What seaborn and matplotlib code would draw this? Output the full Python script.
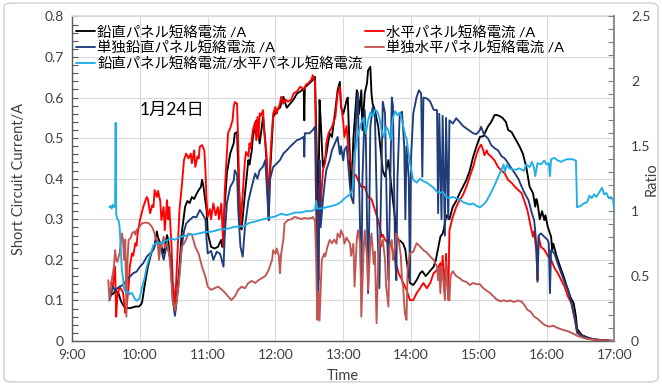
import numpy as np
import matplotlib
matplotlib.use("Agg")
import matplotlib.pyplot as plt
from matplotlib.ticker import MultipleLocator, FixedLocator
from matplotlib.patches import FancyBboxPatch
import seaborn as sns

# ---- measured series: (clock time, value) ----
# vertical panel short-circuit current [A]
vertical = [
    ("9:34", 0.113), ("9:37", 0.118), ("9:38", 0.126), ("9:40", 0.120), ("9:41", 0.118),
    ("9:43", 0.100), ("9:44", 0.094), ("9:46", 0.085), ("9:47", 0.081), ("9:51", 0.081),
    ("9:54", 0.083), ("9:56", 0.085), ("9:59", 0.085), ("10:01", 0.090), ("10:02", 0.097),
    ("10:04", 0.134), ("10:07", 0.183), ("10:10", 0.216), ("10:13", 0.236), ("10:15", 0.270),
    ("10:16", 0.255), ("10:18", 0.241), ("10:21", 0.216), ("10:24", 0.261), ("10:25", 0.250),
    ("10:27", 0.194), ("10:29", 0.118), ("10:31", 0.069), ("10:33", 0.118), ("10:35", 0.183),
    ("10:37", 0.266), ("10:40", 0.331), ("10:42", 0.345), ("10:44", 0.340), ("10:46", 0.355),
    ("10:48", 0.350), ("10:50", 0.362), ("10:52", 0.372), ("10:54", 0.380), ("10:55", 0.397),
    ("10:56", 0.385), ("10:59", 0.323), ("11:00", 0.266), ("11:03", 0.232), ("11:06", 0.228),
    ("11:09", 0.232), ("11:12", 0.249), ("11:13", 0.232), ("11:15", 0.331), ("11:17", 0.414),
    ("11:20", 0.463), ("11:23", 0.487), ("11:24", 0.512), ("11:26", 0.515), ("11:27", 0.429),
    ("11:29", 0.282), ("11:30", 0.275), ("11:33", 0.364), ("11:36", 0.446), ("11:37", 0.435),
    ("11:39", 0.470), ("11:40", 0.503), ("11:43", 0.544), ("11:46", 0.487), ("11:49", 0.552),
    ("11:51", 0.490), ("11:52", 0.446), ("11:54", 0.298), ("11:55", 0.405), ("11:58", 0.552),
    ("12:01", 0.569), ("12:04", 0.575), ("12:07", 0.602), ("12:10", 0.575), ("12:13", 0.585),
    ("12:16", 0.595), ("12:19", 0.610), ("12:22", 0.615), ("12:25", 0.622), ("12:25.5", 0.544),
    ("12:26", 0.625), ("12:30", 0.635), ("12:33", 0.643), ("12:35", 0.651), ("12:36", 0.528),
    ("12:38", 0.282), ("12:39", 0.594), ("12:40", 0.545), ("12:42", 0.429), ("12:45", 0.460),
    ("12:48", 0.512), ("12:50", 0.503), ("12:53", 0.569), ("12:55", 0.618), ("12:57", 0.639),
    ("12:58", 0.577), ("13:00", 0.560), ("13:01", 0.570), ("13:03", 0.594), ("13:04", 0.600),
    ("13:06", 0.446), ("13:07", 0.364), ("13:09", 0.500), ("13:12", 0.618), ("13:13", 0.610),
    ("13:14", 0.560), ("13:16", 0.618), ("13:17", 0.520), ("13:19", 0.610), ("13:21", 0.635),
    ("13:22", 0.667), ("13:24", 0.676), ("13:25", 0.610), ("13:26", 0.585), ("13:28", 0.569),
    ("13:31", 0.528), ("13:34", 0.446), ("13:35", 0.420), ("13:37", 0.405), ("13:38", 0.420),
    ("13:40", 0.446), ("13:41", 0.420), ("13:43", 0.372), ("13:44", 0.347), ("13:46", 0.298),
    ("13:47", 0.265), ("13:48", 0.250), ("13:50", 0.248), ("13:53", 0.240), ("13:55", 0.225),
    ("13:56", 0.200), ("13:59", 0.143), ("14:02", 0.138), ("14:05", 0.150), ("14:08", 0.167),
    ("14:10", 0.172), ("14:13", 0.160), ("14:16", 0.170), ("14:20", 0.183), ("14:22", 0.200),
    ("14:26", 0.257), ("14:28", 0.265), ("14:29", 0.275), ("14:31", 0.306), ("14:32", 0.310),
    ("14:34", 0.300), ("14:37", 0.331), ("14:40", 0.345), ("14:43", 0.364), ("14:46", 0.380),
    ("14:49", 0.397), ("14:52", 0.420), ("14:55", 0.454), ("14:58", 0.480), ("15:01", 0.503),
    ("15:04", 0.505), ("15:08", 0.528), ("15:11", 0.540), ("15:14", 0.557), ("15:16", 0.557),
    ("15:18", 0.555), ("15:21", 0.550), ("15:24", 0.540), ("15:26", 0.520), ("15:29", 0.515),
    ("15:31", 0.505), ("15:33", 0.495), ("15:36", 0.480), ("15:39", 0.462), ("15:42", 0.429),
    ("15:45", 0.380), ("15:47", 0.370), ("15:48", 0.364), ("15:50", 0.331), ("15:51", 0.350),
    ("15:52", 0.340), ("15:54", 0.300), ("15:56", 0.320), ("15:58", 0.298), ("15:59", 0.310),
    ("16:01", 0.282), ("16:04", 0.257), ("16:05", 0.224), ("16:06", 0.240), ("16:09", 0.208),
    ("16:12", 0.183), ("16:15", 0.160), ("16:18", 0.134), ("16:21", 0.109), ("16:24", 0.093),
    ("16:26", 0.060), ("16:27", 0.030), ("16:31", 0.015), ("16:35", 0.010), ("16:40", 0.005),
    ("16:45", 0.003), ("16:55", 0.001), ("17:00", 0.000),
]

# horizontal panel short-circuit current [A]
horizontal = [
    ("9:34", 0.143), ("9:36", 0.134), ("9:38", 0.183), ("9:39", 0.060), ("9:40", 0.110),
    ("9:42", 0.134), ("9:45", 0.120), ("9:47", 0.069), ("9:48", 0.080), ("9:50", 0.134),
    ("9:51", 0.183), ("9:53", 0.216), ("9:54", 0.210), ("9:56", 0.241), ("9:57", 0.235),
    ("9:58", 0.265), ("10:00", 0.298), ("10:03", 0.331), ("10:06", 0.355), ("10:07", 0.350),
    ("10:09", 0.315), ("10:11", 0.335), ("10:12", 0.330), ("10:13", 0.372), ("10:15", 0.355),
    ("10:16", 0.370), ("10:18", 0.345), ("10:19", 0.298), ("10:21", 0.330), ("10:22", 0.273),
    ("10:24", 0.347), ("10:25", 0.300), ("10:26", 0.330), ("10:28", 0.232), ("10:29", 0.150),
    ("10:31", 0.085), ("10:33", 0.200), ("10:35", 0.323), ("10:37", 0.380), ("10:39", 0.446),
    ("10:41", 0.462), ("10:43", 0.450), ("10:45", 0.462), ("10:46", 0.438), ("10:48", 0.470),
    ("10:49", 0.429), ("10:51", 0.455), ("10:52", 0.450), ("10:53", 0.479), ("10:55", 0.483),
    ("10:57", 0.470), ("10:58", 0.421), ("10:59", 0.347), ("11:00", 0.306), ("11:02", 0.325),
    ("11:03", 0.300), ("11:05", 0.339), ("11:07", 0.310), ("11:09", 0.330), ("11:10", 0.300),
    ("11:12", 0.339), ("11:13", 0.282), ("11:14", 0.232), ("11:15", 0.364), ("11:17", 0.462),
    ("11:18", 0.512), ("11:20", 0.525), ("11:22", 0.544), ("11:23", 0.577), ("11:24", 0.589),
    ("11:26", 0.585), ("11:27", 0.487), ("11:28", 0.364), ("11:29", 0.282), ("11:31", 0.364),
    ("11:33", 0.446), ("11:34", 0.466), ("11:36", 0.455), ("11:37", 0.487), ("11:38", 0.475),
    ("11:40", 0.520), ("11:42", 0.540), ("11:43", 0.495), ("11:44", 0.552), ("11:45", 0.500),
    ("11:46", 0.561), ("11:47", 0.555), ("11:49", 0.569), ("11:50", 0.520), ("11:52", 0.462),
    ("11:54", 0.347), ("11:55", 0.420), ("11:56", 0.480), ("11:58", 0.561), ("12:00", 0.577),
    ("12:01", 0.560), ("12:02", 0.570), ("12:04", 0.585), ("12:05", 0.602), ("12:07", 0.585),
    ("12:09", 0.595), ("12:11", 0.590), ("12:14", 0.595), ("12:16", 0.610), ("12:19", 0.615),
    ("12:22", 0.627), ("12:25", 0.620), ("12:27", 0.632), ("12:29", 0.635), ("12:32", 0.645),
    ("12:33", 0.655), ("12:35", 0.640), ("12:36", 0.446), ("12:37", 0.250), ("12:38", 0.150),
    ("12:39", 0.380), ("12:40", 0.330), ("12:42", 0.421), ("12:44", 0.440), ("12:45", 0.487),
    ("12:47", 0.512), ("12:50", 0.528), ("12:53", 0.552), ("12:55", 0.610), ("12:57", 0.627),
    ("12:58", 0.585), ("13:00", 0.540), ("13:01", 0.503), ("13:03", 0.530), ("13:04", 0.490),
    ("13:06", 0.446), ("13:07", 0.440), ("13:09", 0.405), ("13:11", 0.410), ("13:13", 0.397),
    ("13:16", 0.380), ("13:19", 0.380), ("13:22", 0.355), ("13:25", 0.350), ("13:28", 0.323),
    ("13:31", 0.298), ("13:34", 0.257), ("13:35", 0.262), ("13:37", 0.249), ("13:40", 0.240),
    ("13:43", 0.232), ("13:46", 0.200), ("13:49", 0.167), ("13:52", 0.150), ("13:56", 0.126),
    ("13:59", 0.101), ("14:02", 0.101), ("14:05", 0.118), ("14:08", 0.130), ("14:11", 0.143),
    ("14:14", 0.130), ("14:17", 0.143), ("14:20", 0.167), ("14:23", 0.175), ("14:26", 0.192),
    ("14:27", 0.150), ("14:28", 0.210), ("14:30", 0.118), ("14:31", 0.215), ("14:33", 0.101),
    ("14:34", 0.273), ("14:37", 0.306), ("14:40", 0.330), ("14:43", 0.347), ("14:46", 0.360),
    ("14:49", 0.380), ("14:52", 0.405), ("14:55", 0.429), ("14:58", 0.460), ("15:00", 0.475),
    ("15:02", 0.484), ("15:04", 0.470), ("15:05", 0.458), ("15:07", 0.470), ("15:08", 0.462),
    ("15:11", 0.454), ("15:14", 0.445), ("15:17", 0.429), ("15:20", 0.420), ("15:23", 0.413),
    ("15:26", 0.397), ("15:29", 0.390), ("15:32", 0.380), ("15:35", 0.372), ("15:38", 0.364),
    ("15:40", 0.348), ("15:43", 0.323), ("15:46", 0.282), ("15:48", 0.257), ("15:49", 0.270),
    ("15:51", 0.220), ("15:52", 0.150), ("15:53", 0.257), ("15:55", 0.232), ("15:58", 0.225),
    ("16:01", 0.210), ("16:04", 0.200), ("16:07", 0.180), ("16:10", 0.167), ("16:13", 0.150),
    ("16:16", 0.134), ("16:19", 0.109), ("16:22", 0.093), ("16:25", 0.052), ("16:27", 0.023),
    ("16:31", 0.012), ("16:36", 0.008), ("16:42", 0.004), ("16:50", 0.002), ("17:00", 0.000),
]

# stand-alone vertical panel short-circuit current [A]
single_vertical = [
    ("9:33", 0.100), ("9:34", 0.109), ("9:36", 0.134), ("9:38", 0.125), ("9:40", 0.130),
    ("9:42", 0.134), ("9:45", 0.138), ("9:48", 0.150), ("9:51", 0.158), ("9:54", 0.167),
    ("9:57", 0.171), ("10:00", 0.183), ("10:03", 0.192), ("10:06", 0.208), ("10:09", 0.216),
    ("10:12", 0.225), ("10:15", 0.249), ("10:18", 0.235), ("10:21", 0.200), ("10:24", 0.240),
    ("10:27", 0.200), ("10:28", 0.160), ("10:29", 0.101), ("10:31", 0.062), ("10:33", 0.110),
    ("10:34", 0.134), ("10:37", 0.232), ("10:39", 0.270), ("10:41", 0.290), ("10:44", 0.298),
    ("10:47", 0.306), ("10:50", 0.305), ("10:53", 0.323), ("10:55", 0.315), ("10:58", 0.300),
    ("10:59", 0.249), ("11:00", 0.216), ("11:03", 0.222), ("11:05", 0.200), ("11:08", 0.220),
    ("11:11", 0.215), ("11:14", 0.183), ("11:15", 0.257), ("11:17", 0.340), ("11:20", 0.380),
    ("11:23", 0.395), ("11:24", 0.421), ("11:26", 0.410), ("11:27", 0.323), ("11:29", 0.232),
    ("11:31", 0.208), ("11:33", 0.282), ("11:36", 0.345), ("11:39", 0.380), ("11:42", 0.413),
    ("11:44", 0.400), ("11:46", 0.421), ("11:49", 0.430), ("11:51", 0.446), ("11:52", 0.397),
    ("11:54", 0.298), ("11:55", 0.397), ("11:58", 0.429), ("12:01", 0.437), ("12:04", 0.446),
    ("12:07", 0.462), ("12:10", 0.470), ("12:13", 0.479), ("12:16", 0.487), ("12:19", 0.495),
    ("12:22", 0.498), ("12:25", 0.503), ("12:25.5", 0.454), ("12:26", 0.512), ("12:30", 0.512),
    ("12:33", 0.520), ("12:35", 0.528), ("12:36", 0.323), ("12:38", 0.101), ("12:39", 0.446),
    ("12:40", 0.280), ("12:42", 0.347), ("12:44", 0.400), ("12:45", 0.421), ("12:48", 0.446),
    ("12:50", 0.470), ("12:53", 0.490), ("12:55", 0.503), ("12:57", 0.460), ("12:58", 0.480),
    ("13:00", 0.445), ("13:01", 0.470), ("13:03", 0.480), ("13:04", 0.450), ("13:06", 0.380),
    ("13:07", 0.355), ("13:09", 0.339), ("13:10", 0.450), ("13:12", 0.585), ("13:13", 0.610),
    ("13:14", 0.400), ("13:16", 0.126), ("13:17", 0.400), ("13:19", 0.569), ("13:20", 0.500),
    ("13:22", 0.118), ("13:23", 0.300), ("13:24", 0.528), ("13:26", 0.577), ("13:28", 0.560),
    ("13:30", 0.300), ("13:32", 0.130), ("13:33", 0.300), ("13:35", 0.590), ("13:37", 0.560),
    ("13:39", 0.250), ("13:40", 0.150), ("13:41", 0.300), ("13:43", 0.600), ("13:44", 0.580),
    ("13:46", 0.200), ("13:47", 0.150), ("13:48", 0.400), ("13:50", 0.560), ("13:52", 0.565),
    ("13:54", 0.480), ("13:55", 0.300), ("13:56", 0.480), ("13:58", 0.400), ("13:59", 0.150),
    ("14:00", 0.450), ("14:02", 0.561), ("14:05", 0.602), ("14:07", 0.618), ("14:09", 0.610),
    ("14:10", 0.405), ("14:11", 0.600), ("14:14", 0.598), ("14:17", 0.590), ("14:20", 0.570),
    ("14:23", 0.569), ("14:24", 0.315), ("14:25", 0.560), ("14:27", 0.300), ("14:28", 0.555),
    ("14:30", 0.260), ("14:31", 0.550), ("14:33", 0.300), ("14:34", 0.544), ("14:37", 0.536),
    ("14:40", 0.549), ("14:43", 0.540), ("14:46", 0.530), ("14:49", 0.524), ("14:52", 0.518),
    ("14:55", 0.512), ("14:58", 0.510), ("15:01", 0.520), ("15:02", 0.528), ("15:05", 0.507),
    ("15:08", 0.500), ("15:11", 0.483), ("15:14", 0.475), ("15:17", 0.470), ("15:20", 0.456),
    ("15:23", 0.450), ("15:26", 0.438), ("15:29", 0.425), ("15:32", 0.413), ("15:35", 0.400),
    ("15:38", 0.380), ("15:41", 0.362), ("15:44", 0.347), ("15:47", 0.315), ("15:49", 0.298),
    ("15:50", 0.270), ("15:51", 0.230), ("15:52", 0.146), ("15:53", 0.260), ("15:55", 0.265),
    ("15:58", 0.257), ("16:01", 0.249), ("16:02", 0.240), ("16:03", 0.118), ("16:04", 0.224),
    ("16:07", 0.216), ("16:10", 0.190), ("16:13", 0.167), ("16:16", 0.145), ("16:19", 0.126),
    ("16:22", 0.093), ("16:24", 0.069), ("16:25", 0.060), ("16:27", 0.020), ("16:31", 0.013),
    ("16:36", 0.008), ("16:42", 0.004), ("16:50", 0.002), ("17:00", 0.000),
]

# stand-alone horizontal panel short-circuit current [A]
single_horizontal = [
    ("9:32", 0.150), ("9:33", 0.101), ("9:35", 0.150), ("9:37", 0.183), ("9:38", 0.224),
    ("9:39", 0.200), ("9:40", 0.195), ("9:42", 0.216), ("9:44", 0.265), ("9:45", 0.250),
    ("9:46", 0.200), ("9:47", 0.250), ("9:48", 0.060), ("9:49", 0.200), ("9:50", 0.249),
    ("9:52", 0.255), ("9:53", 0.265), ("9:55", 0.270), ("9:56", 0.262), ("9:57", 0.273),
    ("9:59", 0.280), ("10:02", 0.290), ("10:05", 0.292), ("10:08", 0.290), ("10:11", 0.280),
    ("10:13", 0.265), ("10:14", 0.250), ("10:15", 0.255), ("10:16", 0.232), ("10:17", 0.200),
    ("10:18", 0.240), ("10:19", 0.230), ("10:21", 0.257), ("10:22", 0.230), ("10:24", 0.240),
    ("10:26", 0.210), ("10:27", 0.183), ("10:28", 0.140), ("10:29", 0.101), ("10:31", 0.075),
    ("10:33", 0.110), ("10:35", 0.160), ("10:37", 0.232), ("10:40", 0.245), ("10:43", 0.265),
    ("10:46", 0.262), ("10:49", 0.232), ("10:52", 0.215), ("10:55", 0.183), ("10:58", 0.158),
    ("11:00", 0.134), ("11:03", 0.126), ("11:06", 0.130), ("11:09", 0.134), ("11:12", 0.128),
    ("11:15", 0.120), ("11:18", 0.110), ("11:21", 0.101), ("11:24", 0.110), ("11:27", 0.126),
    ("11:30", 0.134), ("11:33", 0.130), ("11:36", 0.143), ("11:39", 0.148), ("11:42", 0.143),
    ("11:45", 0.150), ("11:48", 0.155), ("11:51", 0.160), ("11:54", 0.175), ("11:57", 0.200),
    ("11:58", 0.224), ("12:00", 0.215), ("12:01", 0.228), ("12:03", 0.210), ("12:04", 0.167),
    ("12:05", 0.215), ("12:07", 0.250), ("12:08", 0.290), ("12:11", 0.298), ("12:14", 0.300),
    ("12:17", 0.306), ("12:20", 0.303), ("12:23", 0.301), ("12:26", 0.303), ("12:29", 0.302),
    ("12:32", 0.303), ("12:33", 0.306), ("12:35", 0.296), ("12:36", 0.200), ("12:37", 0.052),
    ("12:38", 0.120), ("12:39", 0.050), ("12:41", 0.200), ("12:43", 0.215), ("12:44", 0.208),
    ("12:46", 0.232), ("12:48", 0.249), ("12:50", 0.241), ("12:52", 0.250), ("12:54", 0.240),
    ("12:55", 0.265), ("12:57", 0.255), ("12:58", 0.273), ("13:00", 0.260), ("13:01", 0.240),
    ("13:03", 0.255), ("13:04", 0.249), ("13:06", 0.240), ("13:07", 0.210), ("13:09", 0.240),
    ("13:10", 0.134), ("13:12", 0.250), ("13:13", 0.273), ("13:15", 0.240), ("13:16", 0.060),
    ("13:18", 0.220), ("13:19", 0.273), ("13:21", 0.210), ("13:22", 0.126), ("13:24", 0.240),
    ("13:25", 0.265), ("13:27", 0.190), ("13:28", 0.220), ("13:29.5", 0.044), ("13:31", 0.200),
    ("13:32", 0.257), ("13:34", 0.233), ("13:35", 0.250), ("13:37", 0.200), ("13:38", 0.134),
    ("13:40", 0.085), ("13:41", 0.233), ("13:43", 0.249), ("13:44", 0.200), ("13:46", 0.233),
    ("13:47", 0.265), ("13:49", 0.250), ("13:51", 0.208), ("13:52", 0.150), ("13:53", 0.134),
    ("13:54.5", 0.069), ("13:56", 0.052), ("13:57", 0.180), ("13:59", 0.216), ("14:02", 0.220),
    ("14:05", 0.241), ("14:08", 0.233), ("14:11", 0.224), ("14:14", 0.218), ("14:17", 0.208),
    ("14:20", 0.200), ("14:23", 0.183), ("14:24", 0.150), ("14:25", 0.180), ("14:26", 0.118),
    ("14:27", 0.185), ("14:28", 0.167), ("14:30", 0.101), ("14:31", 0.195), ("14:33", 0.110),
    ("14:34", 0.101), ("14:35", 0.160), ("14:37", 0.172), ("14:40", 0.160), ("14:43", 0.155),
    ("14:46", 0.148), ("14:49", 0.146), ("14:52", 0.138), ("14:55", 0.143), ("14:58", 0.140),
    ("15:01", 0.140), ("15:04", 0.130), ("15:07", 0.124), ("15:10", 0.118), ("15:13", 0.110),
    ("15:16", 0.102), ("15:19", 0.098), ("15:22", 0.100), ("15:25", 0.098), ("15:28", 0.100),
    ("15:31", 0.096), ("15:35", 0.100), ("15:38", 0.097), ("15:40", 0.090), ("15:43", 0.077),
    ("15:46", 0.072), ("15:49", 0.060), ("15:52", 0.055), ("15:55", 0.047), ("15:58", 0.040),
    ("16:01", 0.036), ("16:04", 0.036), ("16:06", 0.038), ("16:09", 0.033), ("16:12", 0.030),
    ("16:15", 0.027), ("16:19", 0.024), ("16:23", 0.019), ("16:27", 0.013), ("16:31", 0.009),
    ("16:36", 0.005), ("16:42", 0.003), ("16:50", 0.001), ("17:00", 0.000),
]

# ratio: vertical current / horizontal current
current_ratio = [
    ("9:33", 1.03), ("9:34", 1.04), ("9:35", 1.02), ("9:36", 1.05), ("9:37", 1.03),
    ("9:38", 1.05), ("9:38.5", 1.68), ("9:39", 0.97), ("9:40", 0.94), ("9:41", 0.93),
    ("9:42", 0.88), ("9:43", 0.72), ("9:44", 0.55), ("9:45", 0.48), ("9:46", 0.40),
    ("9:48", 0.37), ("9:50", 0.38), ("9:51", 0.36), ("9:53", 0.37), ("9:55", 0.33),
    ("9:57", 0.31), ("9:59", 0.32), ("10:00", 0.34), ("10:02", 0.42), ("10:04", 0.48),
    ("10:06", 0.57), ("10:09", 0.66), ("10:12", 0.74), ("10:14", 0.75), ("10:16", 0.76),
    ("10:19", 0.75), ("10:22", 0.77), ("10:25", 0.78), ("10:28", 0.79), ("10:31", 0.78),
    ("10:35", 0.80), ("10:40", 0.81), ("10:44", 0.82), ("10:48", 0.82), ("10:53", 0.83),
    ("10:58", 0.84), ("11:02", 0.84), ("11:07", 0.85), ("11:11", 0.86), ("11:15", 0.86),
    ("11:20", 0.87), ("11:24", 0.88), ("11:28", 0.88), ("11:33", 0.89), ("11:37", 0.91),
    ("11:42", 0.92), ("11:46", 0.93), ("11:50", 0.94), ("11:55", 0.95), ("12:00", 0.96),
    ("12:05", 0.98), ("12:10", 0.97), ("12:14", 0.98), ("12:18", 0.99), ("12:23", 0.99),
    ("12:27", 1.00), ("12:31", 1.00), ("12:35", 1.01), ("12:36", 1.08), ("12:37", 1.02),
    ("12:40", 1.02), ("12:45", 1.03), ("12:50", 1.04), ("12:54", 1.05), ("12:58", 1.07),
    ("13:00", 1.09), ("13:03", 1.11), ("13:06", 1.13), ("13:08", 1.16), ("13:09", 1.25),
    ("13:10", 1.42), ("13:12", 1.55), ("13:14", 1.62), ("13:16", 1.68), ("13:18", 1.72),
    ("13:20", 1.60), ("13:22", 1.70), ("13:24", 1.76), ("13:26", 1.73), ("13:28", 1.78),
    ("13:30", 1.77), ("13:32", 1.72), ("13:34", 1.62), ("13:36", 1.57), ("13:38", 1.65),
    ("13:40", 1.62), ("13:42", 1.55), ("13:44", 1.72), ("13:46", 1.77), ("13:48", 1.74),
    ("13:50", 1.76), ("13:52", 1.70), ("13:54", 1.62), ("13:55", 1.58), ("13:56", 1.56),
    ("13:59", 1.37), ("14:02", 1.24), ("14:05", 1.22), ("14:08", 1.25), ("14:11", 1.23),
    ("14:14", 1.22), ("14:17", 1.20), ("14:20", 1.18), ("14:23", 1.15), ("14:26", 1.14),
    ("14:28", 1.15), ("14:31", 1.11), ("14:34", 1.10), ("14:37", 1.11), ("14:40", 1.10),
    ("14:43", 1.09), ("14:46", 1.07), ("14:49", 1.06), ("14:52", 1.05), ("14:55", 1.06),
    ("14:58", 1.04), ("15:01", 1.03), ("15:04", 1.05), ("15:07", 1.08), ("15:10", 1.13),
    ("15:13", 1.18), ("15:16", 1.24), ("15:18", 1.28), ("15:20", 1.32), ("15:22", 1.36),
    ("15:23", 1.30), ("15:25", 1.36), ("15:27", 1.33), ("15:30", 1.32), ("15:33", 1.32),
    ("15:36", 1.33), ("15:40", 1.31), ("15:42", 1.36), ("15:45", 1.34), ("15:47", 1.38),
    ("15:49", 1.33), ("15:50", 1.27), ("15:52", 1.37), ("15:55", 1.36), ("15:58", 1.39),
    ("16:00", 1.36), ("16:02", 1.37), ("16:03", 1.27), ("16:04", 1.40), ("16:07", 1.41),
    ("16:10", 1.39), ("16:13", 1.38), ("16:15", 1.39), ("16:18", 1.40), ("16:21", 1.40),
    ("16:23", 1.40), ("16:26", 1.39), ("16:27", 1.03), ("16:30", 1.04), ("16:33", 1.06),
    ("16:36", 1.07), ("16:38", 1.12), ("16:40", 1.10), ("16:42", 1.13), ("16:44", 1.11),
    ("16:47", 1.15), ("16:49", 1.18), ("16:51", 1.13), ("16:53", 1.14), ("16:55", 1.10),
    ("16:57", 1.11), ("16:59", 1.08), ("17:00", 1.00),
]

series_labels = [
    "鉛直パネル短絡電流 /A",
    "水平パネル短絡電流 /A",
    "単独鉛直パネル短絡電流 /A",
    "単独水平パネル短絡電流 /A",
    "鉛直パネル短絡電流/水平パネル短絡電流",
]
hour_ticks = [9, 10, 11, 12, 13, 14, 15, 16, 17]
hour_labels = ["9:00", "10:00", "11:00", "12:00", "13:00", "14:00", "15:00", "16:00", "17:00"]
current_ticks = [0, 0.1, 0.2, 0.3, 0.4, 0.5, 0.6, 0.7, 0.8]
current_labels = ["0", "0.1", "0.2", "0.3", "0.4", "0.5", "0.6", "0.7", "0.8"]
ratio_ticks = [0, 0.5, 1.0, 1.5, 2.0, 2.5]
ratio_labels = ["0", "0.5", "1", "1.5", "2", "2.5"]


def to_hours(clock):
    h, m = clock.split(":")
    return int(h) + float(m) / 60.0


def split(series):
    t = np.array([to_hours(c) for c, _ in series])
    v = np.array([val for _, val in series])
    return t, v


sns.set_theme(style="white")
plt.rcParams["font.family"] = ["Lato", "Noto Sans CJK JP", "DejaVu Sans"]
text_grey = "#404040"

fig = plt.figure(figsize=(6.62, 3.85), dpi=100)
fig.patch.set_facecolor("white")
fig.patches.append(FancyBboxPatch((0.006, 0.008), 0.988, 0.984,
                                  boxstyle="round,pad=0,rounding_size=0.012",
                                  transform=fig.transFigure, fill=False,
                                  edgecolor="#D0D0D0", linewidth=1.0))

ax = fig.add_axes([0.109, 0.1143, 0.819, 0.843])
ax2 = ax.twinx()

colors = ["#000000", "#FF0000", "#1F3D7A", "#C05552", "#1FAEE6"]
lw = 1.35
handles = []
for i, data in enumerate([vertical, horizontal, single_vertical, single_horizontal]):
    t, v = split(data)
    sns.lineplot(x=t, y=v, ax=ax, color=colors[i], linewidth=lw,
                 estimator=None, sort=False, zorder=2 + i)
    handles.append(ax.lines[-1])

t, r = split(current_ratio)
sns.lineplot(x=t, y=r, ax=ax2, color=colors[4], linewidth=lw,
             estimator=None, sort=False, zorder=3)
handles.append(ax2.lines[-1])

# primary axis
ax.set_xlim(9, 17)
ax.set_ylim(0, 0.8)
ax.xaxis.set_major_locator(FixedLocator(hour_ticks))
ax.set_xticklabels(hour_labels)
ax.xaxis.set_minor_locator(MultipleLocator(0.5))
ax.yaxis.set_major_locator(FixedLocator(current_ticks))
ax.set_yticklabels(current_labels)
ax.yaxis.set_minor_locator(MultipleLocator(0.02))
ax.grid(True, which="major", color="#D9D9D9", linewidth=0.8)
ax.set_axisbelow(True)
ax.tick_params(axis="both", which="both", direction="in", colors="#595959",
               labelcolor=text_grey, labelsize=10, length=4, width=0.8)
ax.tick_params(axis="y", pad=6)
ax.tick_params(axis="x", pad=6)
for side in ["left", "bottom"]:
    ax.spines[side].set_color("#595959")
    ax.spines[side].set_linewidth(1.0)
ax.spines["top"].set_color("#D9D9D9")
ax.spines["right"].set_visible(False)

ax.set_xlabel("Time", fontsize=10.5, color=text_grey)
ax.xaxis.set_label_coords(0.5, -0.085)
ax.set_ylabel("Short Circuit Current/A", fontsize=10.5, color=text_grey)
ax.yaxis.set_label_coords(-0.085, 0.5)

# secondary axis (ratio)
ax2.set_ylim(0, 2.5)
ax2.yaxis.set_major_locator(FixedLocator(ratio_ticks))
ax2.set_yticklabels(ratio_labels)
ax2.yaxis.set_minor_locator(MultipleLocator(0.1))
ax2.tick_params(axis="y", which="both", direction="in", colors="#7F7F7F",
                labelcolor=text_grey, labelsize=10, length=4, width=0.8, pad=12)
ax2.grid(False)
for side in ["left", "top", "bottom"]:
    ax2.spines[side].set_visible(False)
ax2.spines["right"].set_color("#7F7F7F")
ax2.set_ylabel("Ratio", fontsize=10.5, color=text_grey, rotation=90)
ax2.yaxis.set_label_coords(1.056, 0.5)

ax.text(0.184, 0.712, "1月24日", transform=ax.transAxes, fontsize=12.5,
        ha="center", va="center", color="black")

order = [0, 2, 4, 1, 3]
leg = ax2.legend([handles[i] for i in order], [series_labels[i] for i in order],
                 loc="upper left", bbox_to_anchor=(0.004, 0.982), ncol=2,
                 frameon=False, fontsize=10.4, handlelength=1.3, handletextpad=0.15,
                 labelspacing=0.13, columnspacing=0.15, borderpad=0.15,
                 borderaxespad=0.0)
for txt in leg.get_texts():
    txt.set_color("black")

fig.savefig("out.png", dpi=100)
